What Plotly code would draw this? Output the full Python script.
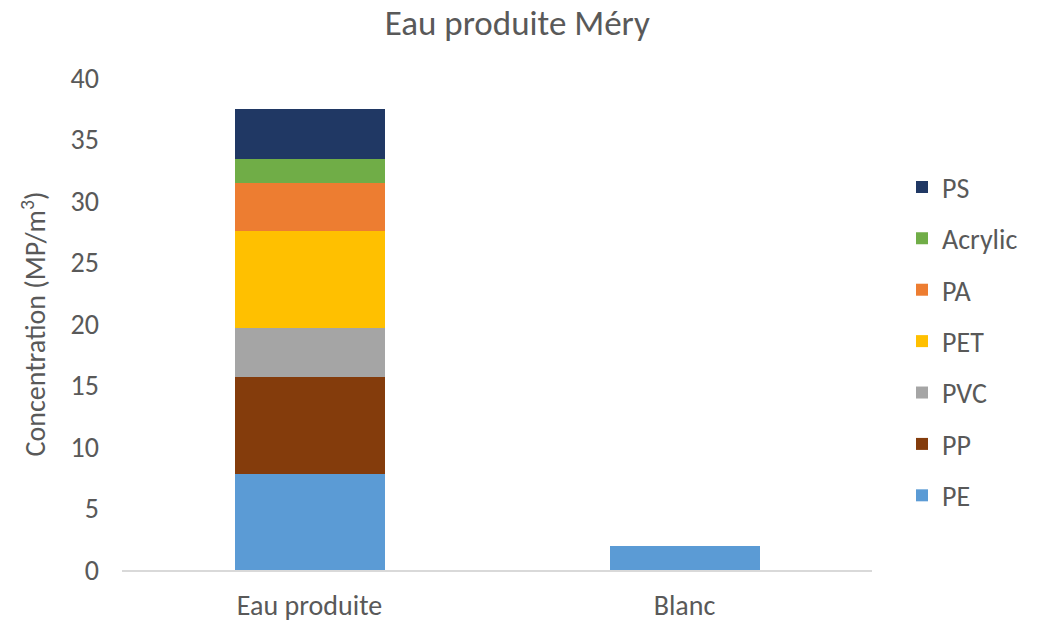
import plotly.graph_objects as go

categories = ["Eau produite", "Blanc"]
polymers = ["PE", "PP", "PVC", "PET", "PA", "Acrylic", "PS"]
values = {
    "PE": [7.8, 1.95],
    "PP": [7.9, None],
    "PVC": [4.0, None],
    "PET": [7.85, None],
    "PA": [3.9, None],
    "Acrylic": [2.0, None],
    "PS": [4.0, None],
}
colors = {
    "PE": "#5b9bd5",
    "PP": "#843c0c",
    "PVC": "#a5a5a5",
    "PET": "#ffc000",
    "PA": "#ed7d31",
    "Acrylic": "#70ad47",
    "PS": "#203864",
}

FONT = "Carlito, Calibri, Lato, sans-serif"
TEXT = "#595959"
FS = 28

fig = go.Figure()
for i, p in enumerate(polymers):
    fig.add_trace(go.Bar(
        name=p, x=categories, y=values[p], marker_color=colors[p],
        marker_line_width=0, width=0.4, legendgroup=p,
        legendrank=len(polymers) - i,
    ))

fig.update_layout(
    barmode="stack",
    width=1048, height=623,
    margin=dict(l=122, r=176, t=78, b=53),
    paper_bgcolor="white", plot_bgcolor="white",
    font=dict(family=FONT, color=TEXT, size=FS),
    title=dict(text="Eau produite Méry", x=0.527, xref="paper", xanchor="center",
               y=0.964, yref="container", yanchor="middle",
               font=dict(size=35, color=TEXT, family=FONT)),
    legend=dict(traceorder="grouped", tracegroupgap=12, x=1.04, xanchor="left",
                y=0.465, yanchor="middle", font=dict(size=FS, color=TEXT, family=FONT),
                itemwidth=30),
    showlegend=True,
)
fig.update_yaxes(range=[0, 40], dtick=5, showgrid=False, zeroline=False, showline=False,
                 ticks="", ticklabelstandoff=22, automargin=False,
                 title=dict(text="Concentration (MP/m<sup>3</sup>)", standoff=16,
                            font=dict(size=FS, color=TEXT, family=FONT)))
fig.update_xaxes(showline=True, linecolor="#d9d9d9", linewidth=1.5, ticks="",
                 ticklabelstandoff=10, showgrid=False, automargin=False)

fig.write_html("out.html")
